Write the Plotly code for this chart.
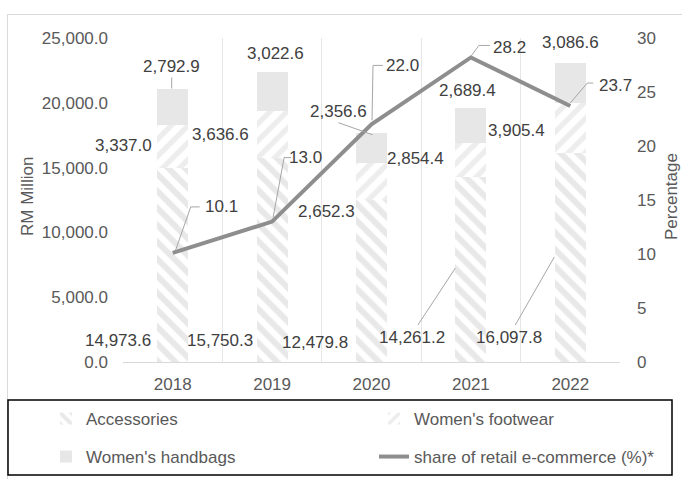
import plotly.graph_objects as go

# ---------------- data ----------------
years = ["2018", "2019", "2020", "2021", "2022"]
accessories = [14973.6, 15750.3, 12479.8, 14261.2, 16097.8]
womens_footwear = [3337.0, 3636.6, 2854.4, 2652.3, 3905.4]
womens_handbags = [2792.9, 3022.6, 2356.6, 2689.4, 3086.6]
ecommerce_share = [10.1, 13.0, 22.0, 28.2, 23.7]
left_ticks = [0, 5000, 10000, 15000, 20000, 25000]
right_ticks = [0, 5, 10, 15, 20, 25, 30]

# ---------------- layout constants ----------------
W, H = 682, 479
L, R, T, B = 123, 62, 38, 117
PW, PH = W - L - R, H - T - B
FONT = "Liberation Sans, Arial, sans-serif"
TXT = "#595959"
LBL = "#404040"
LEAD = "#a6a6a6"


def px_x(px):
    return (px - L) / PW


def px_y(py):
    return (H - B - py) / PH


fig = go.Figure()
fig.add_trace(go.Bar(
    x=years, y=accessories, name="Accessories", legend="legend",
    marker=dict(color="white", line=dict(width=0),
                pattern=dict(shape="\\", fgcolor="#d2d2d2", bgcolor="white",
                             size=12, solidity=0.5)),
))
fig.add_trace(go.Bar(
    x=years, y=womens_footwear, name="Women's footwear", legend="legend2",
    marker=dict(color="white", line=dict(width=0),
                pattern=dict(shape="/", fgcolor="#dcdcdc", bgcolor="white",
                             size=12, solidity=0.45)),
))
fig.add_trace(go.Bar(
    x=years, y=womens_handbags, name="Women's handbags", legend="legend3",
    marker=dict(color="#e7e7e7", line=dict(width=0)),
))
fig.add_trace(go.Scatter(
    x=years, y=ecommerce_share, name="share of retail e-commerce (%)*",
    legend="legend4", yaxis="y2", mode="lines",
    line=dict(color="#8e8e8e", width=4),
))

# ---------------- data labels (anchored to data, pixel offsets) ----------------
ann = []


def fmt(v):
    return f"{v:,.1f}"


acc_off = [(-55, 22), (-52, 22), (-57, 20), (-59, 25), (-61, 25)]
foot_off = [(-49, -21), (-52, -24), (44, 5), (-144, -69), (-54, -28)]
bag_off = [(-1, 22), (3, 18), (-33, 21), (-3, 17), (0, 20)]
pct_off = [(49, 46), (33, 64), (31, 59), (39, 10), (45, 21)]

for i, yr in enumerate(years):
    a, f, h = accessories[i], womens_footwear[i], womens_handbags[i]
    ann.append(dict(x=i, y=0, xref="x", yref="y", text=fmt(a), showarrow=False,
                    xshift=acc_off[i][0], yshift=acc_off[i][1]))
    ann.append(dict(x=i, y=a + f, xref="x", yref="y", text=fmt(f), showarrow=False,
                    xshift=foot_off[i][0], yshift=foot_off[i][1]))
    ann.append(dict(x=i, y=a + f + h, xref="x", yref="y", text=fmt(h), showarrow=False,
                    xshift=bag_off[i][0], yshift=bag_off[i][1]))
    ann.append(dict(x=i, y=ecommerce_share[i], xref="x", yref="y2",
                    text=f"{ecommerce_share[i]:.1f}", showarrow=False,
                    xshift=pct_off[i][0], yshift=pct_off[i][1]))
for a_ in ann:
    a_["font"] = dict(family=FONT, size=17, color=LBL)

# axis titles
ann.append(dict(x=px_x(27), y=px_y(197), xref="paper", yref="paper", text="RM Million",
                xanchor="center", yanchor="middle",
                textangle=-90, showarrow=False, font=dict(family=FONT, size=17, color=TXT)))
ann.append(dict(x=px_x(671), y=px_y(197), xref="paper", yref="paper", text="Percentage",
                xanchor="center", yanchor="middle",
                textangle=-90, showarrow=False, font=dict(family=FONT, size=17, color=TXT)))

# ---------------- leader lines ----------------
shapes = []


def leader(idx, yval, yref, x0, y0, x1, y1):
    shapes.append(dict(type="line", xref="x", yref=yref, xsizemode="pixel",
                       ysizemode="pixel", xanchor=idx, yanchor=yval,
                       x0=x0, y0=y0, x1=x1, y1=y1, line=dict(color=LEAD, width=1)))


tot = [accessories[i] + womens_footwear[i] + womens_handbags[i] for i in range(5)]
leader(0, tot[0], "y", -1, 11, -1, 0)
leader(2, tot[2], "y", -33, 10, 1, -2)
leader(3, 0, "y", -53, 37, -15.5, 94)
leader(4, 0, "y", -55, 37, -16, 105)
pct_leaders = [(18, 46, 27, 3, 3), (12, 64, 19, 1, 4), (1.5, 59, 11.5, 0.5, 4),
               (8, 12, 19, 0, 1), (17, 23, 23, 0, 3)]
for i, (ex, ey, hx, tx, ty) in enumerate(pct_leaders):
    leader(i, ecommerce_share[i], "y2", ex, ey, hx, ey)
    leader(i, ecommerce_share[i], "y2", ex, ey, tx, ty)

# outer chart border and legend box
shapes.append(dict(type="rect", xref="paper", yref="paper", x0=px_x(7.5), x1=px_x(700),
                   y0=px_y(500), y1=px_y(14.5), line=dict(color="#d9d9d9", width=1),
                   fillcolor="rgba(0,0,0,0)", layer="below"))
shapes.append(dict(type="rect", xref="paper", yref="paper", x0=px_x(8), x1=px_x(672),
                   y0=px_y(475), y1=px_y(400), line=dict(color="black", width=1.5),
                   fillcolor="rgba(0,0,0,0)"))


def leg(px, py):
    return dict(x=px / W, y=1 - py / H, xref="container", yref="container",
                orientation="h", xanchor="left", yanchor="middle",
                bgcolor="rgba(0,0,0,0)", borderwidth=0,
                font=dict(family=FONT, size=17, color=TXT))


fig.update_layout(
    width=W, height=H, autosize=False,
    margin=dict(l=L, r=R, t=T, b=B, pad=0),
    paper_bgcolor="white", plot_bgcolor="white",
    barmode="stack", bargap=0.69,
    showlegend=True,
    legend=leg(46, 419),
    legend2=leg(374, 419),
    legend3=leg(46, 457),
    legend4=leg(374, 457),
    xaxis=dict(type="category", range=[-0.5, 4.5], showgrid=True, gridcolor="#e6e6e6",
               gridwidth=1, tickson="boundaries", showline=True, linecolor="#d9d9d9",
               linewidth=1, ticks="", ticklabelstandoff=7, automargin=False,
               tickfont=dict(family=FONT, size=17, color=TXT), zeroline=False),
    yaxis=dict(range=[0, 25000], tickvals=left_ticks, tickformat=",.1f",
               showgrid=False, zeroline=False, showline=False, ticks="",
               ticklabelstandoff=14, automargin=False,
               tickfont=dict(family=FONT, size=17, color=TXT)),
    yaxis2=dict(range=[0, 30], tickvals=right_ticks, overlaying="y", side="right",
                showgrid=False, zeroline=False, showline=False, ticks="",
                ticklabelstandoff=16, automargin=False,
                tickfont=dict(family=FONT, size=17, color=TXT)),
    annotations=ann,
    shapes=shapes,
)

fig.write_html("out.html")
